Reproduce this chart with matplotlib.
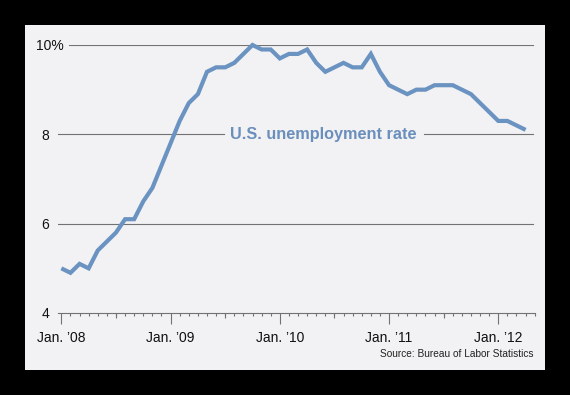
import matplotlib
matplotlib.use("Agg")
import matplotlib.pyplot as plt
from matplotlib.patches import Rectangle
import matplotlib.transforms as mtransforms

# ---- data: monthly U.S. unemployment rate, Jan 2008 - Apr 2012 ----
rate_2008 = [5.0, 4.9, 5.1, 5.0, 5.4, 5.6, 5.8, 6.1, 6.1, 6.5, 6.8, 7.3]
rate_2009 = [7.8, 8.3, 8.7, 8.9, 9.4, 9.5, 9.5, 9.6, 9.8, 10.0, 9.9, 9.9]
rate_2010 = [9.7, 9.8, 9.8, 9.9, 9.6, 9.4, 9.5, 9.6, 9.5, 9.5, 9.8, 9.4]
rate_2011 = [9.1, 9.0, 8.9, 9.0, 9.0, 9.1, 9.1, 9.1, 9.0, 8.9, 8.7, 8.5]
rate_2012 = [8.3, 8.3, 8.2, 8.1]
rates = rate_2008 + rate_2009 + rate_2010 + rate_2011 + rate_2012
months = list(range(len(rates)))

year_labels = ["Jan. \u201908", "Jan. \u201909", "Jan. \u201910", "Jan. \u201911", "Jan. \u201912"]
y_ticks = [4, 6, 8, 10]
y_tick_labels = ["4", "6", "8", "10%"]
series_label = "U.S. unemployment rate"
source_text = "Source: Bureau of Labor Statistics"

LINE = "#6b93c1"
LABEL = "#6a8fbc"
GRID = "#727272"
PANEL = "#f2f2f4"
narrow = ["Liberation Sans", "DejaVu Sans"]
regular = ["Liberation Sans", "DejaVu Sans"]
TICK_FS = 10

W, H = 570, 395
fig = plt.figure(figsize=(W / 100, H / 100), dpi=100, facecolor="black")

# light panel
fig.patches.append(Rectangle((25 / W, 1 - 370 / H), 520 / W, 345 / H,
                             transform=fig.transFigure, facecolor=PANEL,
                             edgecolor="none", zorder=-5))

left_px, right_px = 57.7, 534.7
top_px, bot_px = 45, 313
axw = right_px - left_px
ax = fig.add_axes([left_px / W, 1 - bot_px / H, axw / W, (bot_px - top_px) / H])
ax.set_zorder(2)
ax.set_facecolor("none")
ax.set_xlim(-0.4, 52)
ax.set_ylim(4, 10)

for s in ["top", "right", "left"]:
    ax.spines[s].set_visible(False)
ax.spines["bottom"].set_color(GRID)
ax.spines["bottom"].set_linewidth(0.8)

# gridlines
ax.axhline(10, xmin=(69 - left_px) / axw, xmax=0.996, color=GRID, lw=0.8, zorder=1)
ax.axhline(8, xmin=0, xmax=(224 - left_px) / axw, color=GRID, lw=0.8, zorder=1)
ax.axhline(8, xmin=(424 - left_px) / axw, xmax=0.996, color=GRID, lw=0.8, zorder=1)
ax.axhline(6, xmin=0, xmax=0.996, color=GRID, lw=0.8, zorder=1)

ax.plot(months, rates, color=LINE, lw=3.0, solid_joinstyle="miter", solid_capstyle="butt",
        zorder=3, clip_on=False)

# x ticks
major = [12 * i for i in range(len(year_labels))]
minor = [m for m in range(0, 53) if m % 12 != 0]
ax.set_xticks(major)
ax.set_xticklabels(year_labels, fontfamily=narrow, fontsize=TICK_FS, color="#111111")
ax.set_xticks(minor, minor=True)
ax.tick_params(axis="x", which="major", length=8, width=0.8, color=GRID, pad=5)
ax.tick_params(axis="x", which="minor", length=2.5, width=0.8, color=GRID)
# medium ticks at July
trans = mtransforms.blended_transform_factory(ax.transData, ax.transAxes)
july = [m for m in range(0, 53) if m % 12 == 6]
ax.vlines(july, -5 / (bot_px - top_px), 0, transform=trans, color=GRID, lw=0.8, clip_on=False)

# y labels (numbers right-aligned, the % sign hangs past them)
ax.set_yticks([])
ytrans = mtransforms.blended_transform_factory(ax.transAxes, ax.transData)
for val, lab in zip(y_ticks, y_tick_labels):
    if lab.endswith("%"):
        ax.text((36.0 - left_px) / axw, val, lab, transform=ytrans, ha="left",
                va="center_baseline", fontfamily=narrow, fontsize=TICK_FS, color="#111111")
    else:
        ax.text((49.5 - left_px) / axw, val, lab, transform=ytrans, ha="right",
                va="center_baseline", fontfamily=narrow, fontsize=TICK_FS, color="#111111")

# series label
ax.text((323.5 - left_px) / axw, 8, series_label, transform=ytrans,
        ha="center", va="center", fontfamily=regular, fontweight="bold",
        fontsize=11.7, color=LABEL)

fig.text(533 / W, 1 - 354 / H, source_text, ha="right", va="center",
         fontfamily=regular, fontsize=7.3, color="#222222")

fig.savefig("out.png", dpi=100, facecolor="black")
